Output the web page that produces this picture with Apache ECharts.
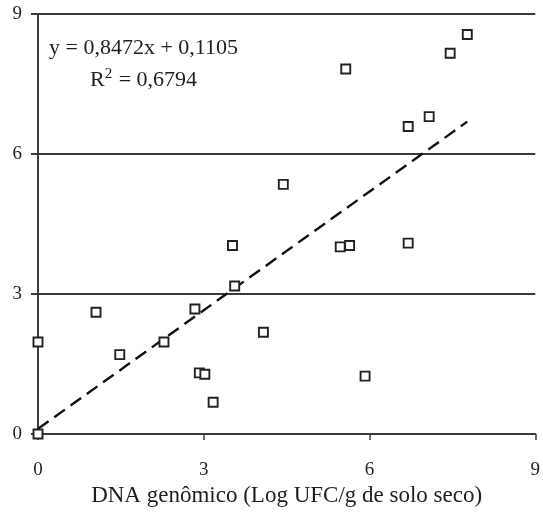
<!DOCTYPE html>
<html>
<head>
<meta charset="utf-8">
<script src="https://cdn.jsdelivr.net/npm/echarts@6/dist/echarts.min.js"></script>
<style>
  html, body { margin: 0; padding: 0; background: #fff; }
  #chart { width: 543px; height: 520px; }
</style>
</head>
<body>
<div id="chart"></div>
<script>
// pontos observados (x = DNA genômico, y = valor medido)
var xValues = [0, 0, 1.05, 1.48, 2.28, 2.84, 3.56, 2.92, 3.02, 3.17, 4.08, 5.92,
               3.52, 4.44, 5.47, 5.64, 6.70, 6.70, 7.08, 5.57, 7.46, 7.77];
var yValues = [0, 1.97, 2.61, 1.70, 1.97, 2.68, 3.17, 1.31, 1.28, 0.68, 2.18, 1.24,
               4.04, 5.35, 4.01, 4.04, 4.09, 6.59, 6.80, 7.82, 8.16, 8.56];
// linha de tendência
var trendCoef = [0.8472, 0.1105];   // inclinação, intercepto
var trendRange = [0, 7.77];
var axisTicks = [0, 3, 6, 9];
var eqText = ['y = 0,8472x + 0,1105', '0,6794'];
var xAxisTitle = 'DNA genômico (Log UFC/g de solo seco)';

/**
 * monta os pontos do gráfico
 */
function buildPoints() {
	var pts = [];
	for (var i = 0; i < xValues.length; i++) {
		pts.push([xValues[i], yValues[i]]);
	}
	return pts;
}

function buildTrend() {
	return trendRange.map(function(x) {
		return [x, trendCoef[0] * x + trendCoef[1]];
	});
}

var fontFam = '"Liberation Serif", "DejaVu Serif", serif';
var lineColor = '#3a3a3a';
var textColor = '#1e1e1e';

var myChart = echarts.init(document.getElementById('chart'));

option = {
	animation : false,
	backgroundColor : '#fff',
	grid : { left : 38, right : 5, top : 14, bottom : 86 },
	xAxis : {
		type : 'value',
		min : axisTicks[0],
		max : axisTicks[axisTicks.length - 1],
		interval : 3,
		name : xAxisTitle,
		nameLocation : 'middle',
		nameGap : 47,
		nameTextStyle : { fontFamily : fontFam, fontSize : 23, color : textColor },
		axisLine : { show : true, lineStyle : { color : lineColor, width : 2 } },
		axisTick : { show : true, inside : false, length : 6, lineStyle : { color : lineColor, width : 1.5 } },
		axisLabel : { fontFamily : fontFam, fontSize : 19, color : textColor, margin : 27 },
		splitLine : { show : false }
	},
	yAxis : {
		type : 'value',
		min : axisTicks[0],
		max : axisTicks[axisTicks.length - 1],
		interval : 3,
		axisLine : { show : true, lineStyle : { color : lineColor, width : 2 } },
		axisTick : { show : true, inside : false, length : 7, lineStyle : { color : lineColor, width : 2 } },
		axisLabel : { fontFamily : fontFam, fontSize : 19, color : textColor, margin : 16 },
		splitLine : { show : true, lineStyle : { color : lineColor, width : 2 } }
	},
	graphic : [
		{
			type : 'text', left : 49, top : 37, z : 10,
			style : { text : eqText[0], fontFamily : fontFam, fontSize : 22, fill : textColor }
		},
		{
			type : 'text', left : 90, top : 67, z : 10,
			style : {
				text : '{a|R}{s|2}{a| = ' + eqText[1] + '}',
				rich : {
					a : { fontFamily : fontFam, fontSize : 22, fill : textColor, verticalAlign : 'bottom' },
					s : { fontFamily : fontFam, fontSize : 15, fill : textColor, verticalAlign : 'top', padding : [0, 1, 9, 0] }
				}
			}
		}
	],
	series : [
		{
			name : 'tendencia',
			type : 'line',
			data : buildTrend(),
			symbol : 'none',
			silent : true,
			z : 2,
			lineStyle : { color : '#111', width : 2.4, type : [13, 7] }
		},
		{
			name : 'pontos',
			type : 'scatter',
			data : buildPoints(),
			symbol : 'rect',
			symbolSize : 9,
			z : 3,
			itemStyle : { color : '#fff', borderColor : '#222', borderWidth : 1.9, opacity : 1 }
		}
	]
};

myChart.setOption(option);
</script>
</body>
</html>
